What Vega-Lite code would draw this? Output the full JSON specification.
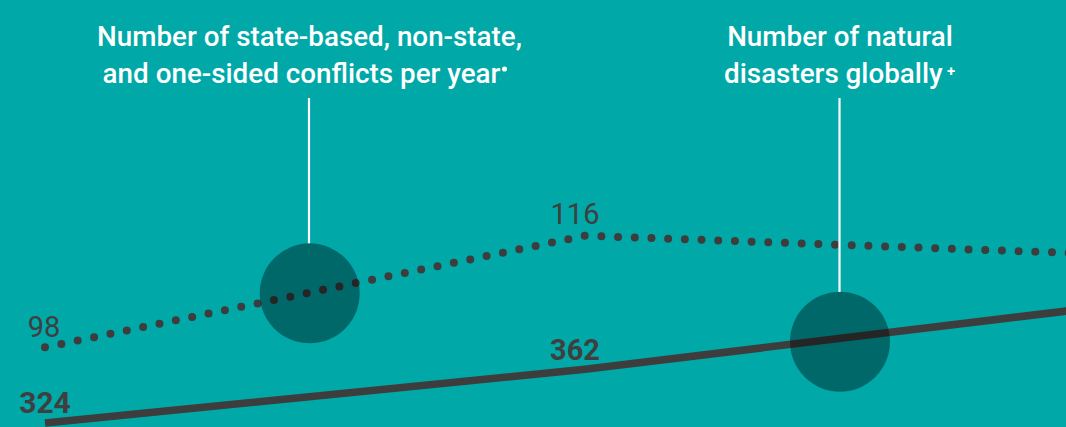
{
  "$schema": "https://vega.github.io/schema/vega-lite/v6.json",
  "width": 1066,
  "height": 427,
  "autosize": {"type": "fit", "contains": "padding"},
  "padding": 0,
  "background": "#00A8A8",
  "config": {"view": {"stroke": null}},
  "datasets": {
    "conflicts": [
      {"t": 0, "value": 98, "label": "98"},
      {"t": 1, "value": 116, "label": "116"},
      {"t": 2, "value": 112.9, "label": ""}
    ],
    "disasters": [
      {"t": 0, "value": 324, "label": "324"},
      {"t": 1, "value": 362, "label": "362"},
      {"t": 2, "value": 408.1, "label": ""}
    ],
    "markerConflict": [{"t": 0.4902, "value": 106.71}],
    "markerDisaster": [{"t": 1.4722, "value": 381.45}],
    "leaders": [
      {"t": 0.4889, "top": 138.2, "bottom": 114.78},
      {"t": 1.4713, "top": 138.2, "bottom": 106.92}
    ],
    "headings": [
      {"t": 0.4898, "value": 146.6, "text": "Number of state-based, non-state,"},
      {"t": 0.475, "value": 140.68, "text": "and one-sided conflicts per year"},
      {"t": 1.4722, "value": 146.6, "text": "Number of natural"},
      {"t": 1.4599, "value": 140.68, "text": "disasters globally"}
    ],
    "sups": [
      {"t": 0.851, "value": 142.9, "symbol": "dot"},
      {"t": 1.6778, "value": 142.57, "symbol": "+"}
    ]
  },
  "encoding": {
    "x": {"field": "t", "type": "quantitative", "scale": {"domain": [-0.08333, 1.89074], "nice": false, "zero": false}, "axis": null}
  },
  "layer": [
    {
      "data": {"name": "conflicts"},
      "mark": {"type": "line", "color": "#3d3d3d", "strokeWidth": 8, "strokeCap": "round", "strokeDash": [0, 16.7], "clip": true},
      "encoding": {"y": {"field": "value", "type": "quantitative", "scale": {"domain": [85.15, 154.02], "nice": false, "zero": false}, "axis": null}}
    },
    {
      "data": {"name": "disasters"},
      "mark": {"type": "line", "color": "#3d3d3d", "strokeWidth": 7.5, "clip": true},
      "encoding": {"y": {"field": "value", "type": "quantitative", "scale": {"domain": [321.2, 622.8], "nice": false, "zero": false}, "axis": null}}
    },
    {
      "data": {"name": "markerConflict"},
      "mark": {"type": "point", "shape": "circle", "filled": true, "size": 10000, "color": "#000000", "opacity": 0.38},
      "encoding": {"y": {"field": "value", "type": "quantitative", "scale": {"domain": [85.15, 154.02], "nice": false, "zero": false}, "axis": null}}
    },
    {
      "data": {"name": "markerDisaster"},
      "mark": {"type": "point", "shape": "circle", "filled": true, "size": 10000, "color": "#000000", "opacity": 0.38},
      "encoding": {"y": {"field": "value", "type": "quantitative", "scale": {"domain": [321.2, 622.8], "nice": false, "zero": false}, "axis": null}}
    },
    {
      "data": {"name": "leaders"},
      "mark": {"type": "rule", "color": "#ffffff", "strokeWidth": 2.2},
      "encoding": {
        "y": {"field": "top", "type": "quantitative", "scale": {"domain": [85.15, 154.02], "nice": false, "zero": false}, "axis": null},
        "y2": {"field": "bottom"}
      }
    },
    {
      "data": {"name": "headings"},
      "mark": {"type": "text", "color": "#ffffff", "font": "Roboto", "fontSize": 27.8, "fontWeight": 500, "align": "center", "baseline": "alphabetic"},
      "encoding": {
        "y": {"field": "value", "type": "quantitative", "scale": {"domain": [85.15, 154.02], "nice": false, "zero": false}, "axis": null},
        "text": {"field": "text"}
      }
    },
    {
      "data": {"name": "sups"},
      "transform": [{"filter": "datum.symbol === 'dot'"}],
      "mark": {"type": "point", "shape": "circle", "filled": true, "size": 26, "color": "#ffffff", "opacity": 1},
      "encoding": {"y": {"field": "value", "type": "quantitative", "scale": {"domain": [85.15, 154.02], "nice": false, "zero": false}, "axis": null}}
    },
    {
      "data": {"name": "sups"},
      "transform": [{"filter": "datum.symbol === '+'"}],
      "mark": {"type": "text", "color": "#ffffff", "font": "Roboto", "fontSize": 15, "fontWeight": "bold", "align": "center", "baseline": "middle"},
      "encoding": {
        "y": {"field": "value", "type": "quantitative", "scale": {"domain": [85.15, 154.02], "nice": false, "zero": false}, "axis": null},
        "text": {"field": "symbol"}
      }
    },
    {
      "data": {"name": "conflicts"},
      "transform": [{"filter": "datum.t === 0"}],
      "mark": {"type": "text", "color": "#3f3f3f", "font": "Roboto", "fontSize": 29, "align": "center", "baseline": "alphabetic", "dx": -1, "dy": -10},
      "encoding": {
        "y": {"field": "value", "type": "quantitative", "scale": {"domain": [85.15, 154.02], "nice": false, "zero": false}, "axis": null},
        "text": {"field": "label"}
      }
    },
    {
      "data": {"name": "conflicts"},
      "transform": [{"filter": "datum.t === 1"}],
      "mark": {"type": "text", "color": "#3f3f3f", "font": "Roboto", "fontSize": 29, "align": "center", "baseline": "alphabetic", "dx": -10, "dy": -12},
      "encoding": {
        "y": {"field": "value", "type": "quantitative", "scale": {"domain": [85.15, 154.02], "nice": false, "zero": false}, "axis": null},
        "text": {"field": "label"}
      }
    },
    {
      "data": {"name": "disasters"},
      "transform": [{"filter": "datum.t === 0"}],
      "mark": {"type": "text", "color": "#3f3f3f", "font": "Roboto", "fontSize": 30, "fontWeight": "bold", "align": "center", "baseline": "alphabetic", "dx": 0, "dy": -10},
      "encoding": {
        "y": {"field": "value", "type": "quantitative", "scale": {"domain": [321.2, 622.8], "nice": false, "zero": false}, "axis": null},
        "text": {"field": "label"}
      }
    },
    {
      "data": {"name": "disasters"},
      "transform": [{"filter": "datum.t === 1"}],
      "mark": {"type": "text", "color": "#3f3f3f", "font": "Roboto", "fontSize": 29, "fontWeight": "bold", "align": "center", "baseline": "alphabetic", "dx": -10, "dy": -9},
      "encoding": {
        "y": {"field": "value", "type": "quantitative", "scale": {"domain": [321.2, 622.8], "nice": false, "zero": false}, "axis": null},
        "text": {"field": "label"}
      }
    }
  ],
  "resolve": {"scale": {"y": "independent"}}
}
